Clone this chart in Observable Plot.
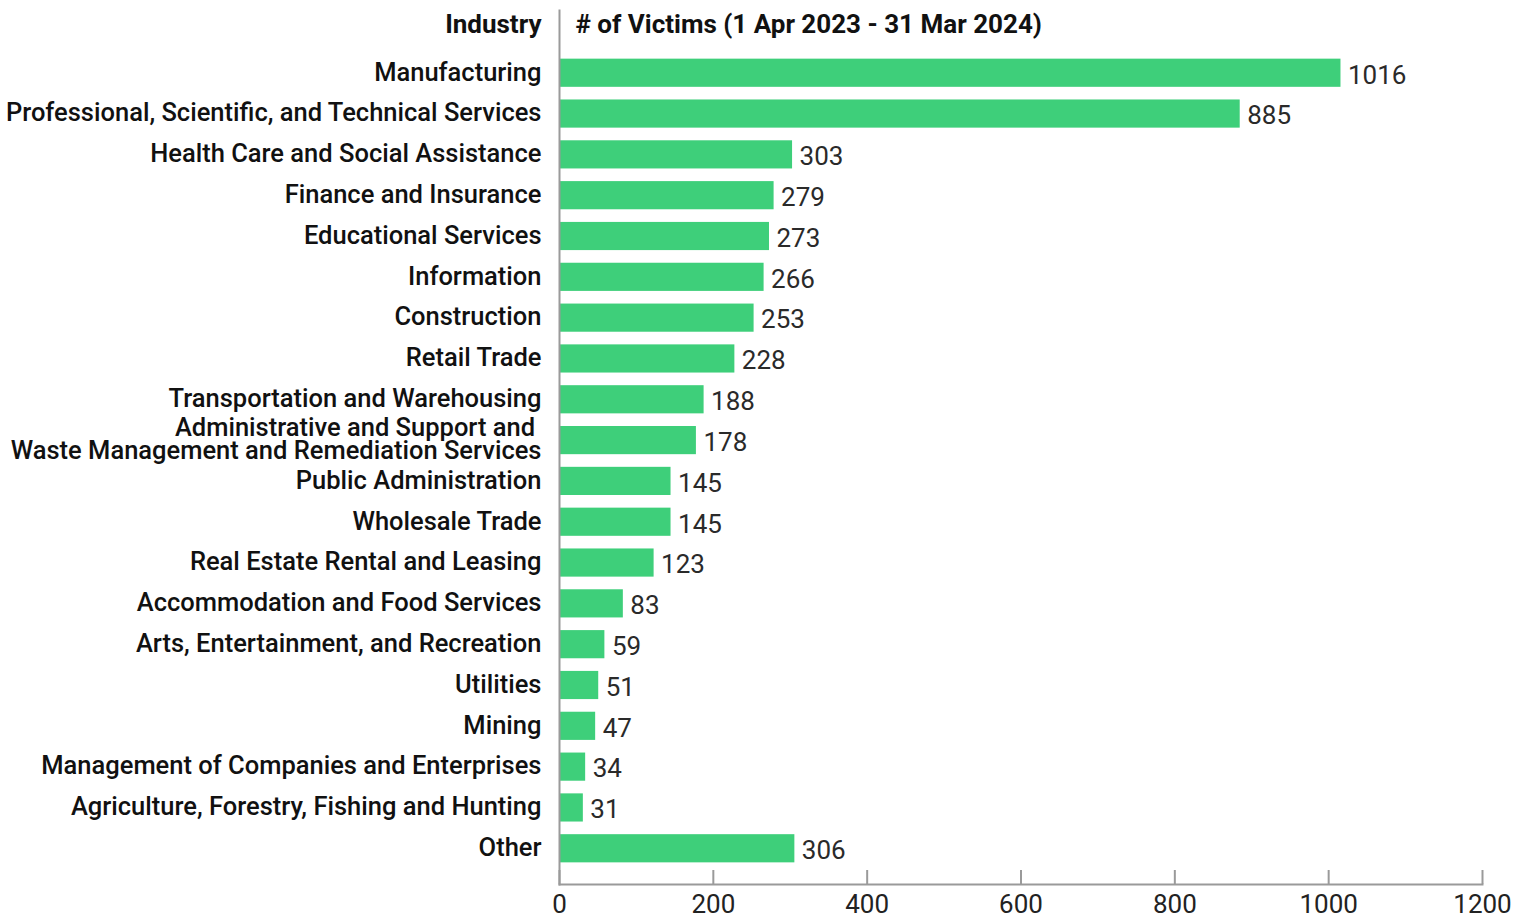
<!DOCTYPE html>
<html><head><meta charset="utf-8">
<script src="https://cdn.jsdelivr.net/npm/d3@7"></script>
<script src="https://cdn.jsdelivr.net/npm/@observablehq/plot@0.6"></script>
<style>
body{margin:0;background:#fff;font-family:Roboto,sans-serif;}
svg{font-family:Roboto,sans-serif;}
</style></head><body>
<div id="chart"></div>
<script>
const industries = [
  "Manufacturing",
  "Professional, Scientific, and Technical Services",
  "Health Care and Social Assistance",
  "Finance and Insurance",
  "Educational Services",
  "Information",
  "Construction",
  "Retail Trade",
  "Transportation and Warehousing",
  "Administrative and Support and\u00a0\nWaste Management and Remediation Services",
  "Public Administration",
  "Wholesale Trade",
  "Real Estate Rental and Leasing",
  "Accommodation and Food Services",
  "Arts, Entertainment, and Recreation",
  "Utilities",
  "Mining",
  "Management of Companies and Enterprises",
  "Agriculture, Forestry, Fishing and Hunting",
  "Other"
];
const victims = [1016, 885, 303, 279, 273, 266, 253, 228, 188, 178, 145, 145, 123, 83, 59, 51, 47, 34, 31, 306];
const xTicks = [0, 200, 400, 600, 800, 1000, 1200];
const headerLeft = "Industry";
const headerRight = "# of Victims (1 Apr 2023 - 31 Mar 2024)";

const data = industries.map((name, i) => ({name, value: victims[i]}));

const chart = Plot.plot({
  width: 1528,
  height: 917,
  marginLeft: 559,
  marginRight: 46,
  marginTop: 10,
  marginBottom: 33,
  style: {fontFamily: "Roboto, sans-serif", fontSize: "26px", color: "#111", background: "#fff"},
  x: {domain: [0, 1200], ticks: xTicks},
  y: {domain: industries, range: [46, 875], padding: 0.31, round: false},
  marks: [
    Plot.barX(data, {x: "value", y: "name", fill: "#3ecf7a"}),
    Plot.text(data, {x: "value", y: "name", text: d => String(d.value), textAnchor: "start", dx: 7, dy: 2, fill: "#2a2a2a", fontSize: 26}),
    Plot.axisY({tickSize: 0, tickPadding: 18, fontSize: 25.5, fontWeight: 500, fill: "#111", lineHeight: 0.9, label: null}),
    Plot.axisX({ticks: xTicks, tickFormat: d => String(d), tickSize: -14, tickPadding: 24, fontSize: 26, fill: "#222", stroke: "#9a9a9a", strokeWidth: 2, label: null}),
    Plot.frame({anchor: "bottom", stroke: "#9a9a9a", strokeWidth: 2}),
    Plot.frame({anchor: "left", stroke: "#9a9a9a", strokeWidth: 2}),
    Plot.text([headerLeft], {x: () => 0, frameAnchor: "top", text: d => d, textAnchor: "end", dx: -18, dy: 4, fontWeight: "bold", fontSize: 26, fill: "#111"}),
    Plot.text([headerRight], {x: () => 0, frameAnchor: "top", text: d => d, textAnchor: "start", dx: 16, dy: 4, fontWeight: "bold", fontSize: 26, fill: "#111"})
  ]
});
document.getElementById("chart").appendChild(chart);
</script>
</body></html>
